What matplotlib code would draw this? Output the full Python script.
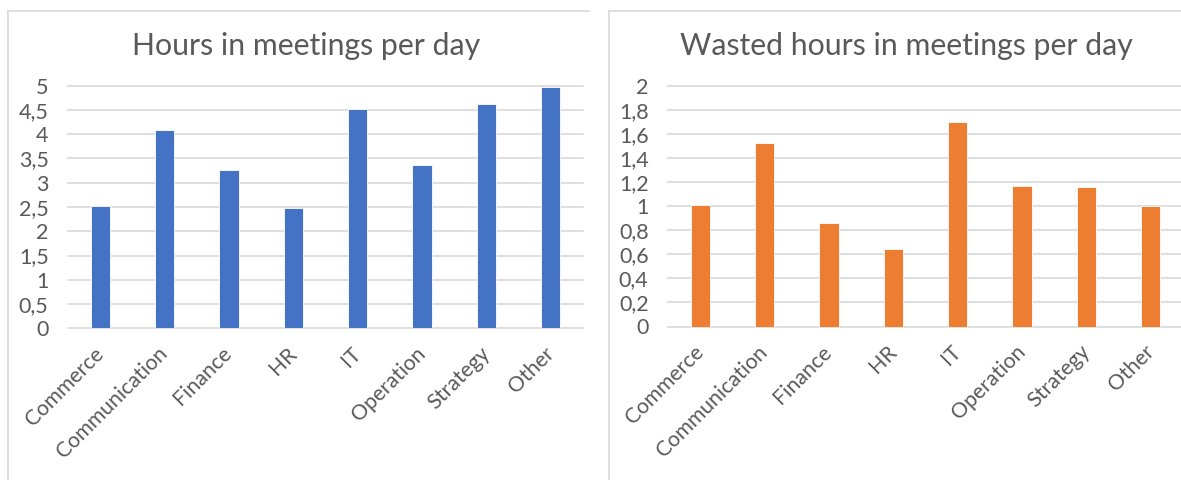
import matplotlib
matplotlib.use("Agg")
import matplotlib.pyplot as plt
from matplotlib.lines import Line2D

# Data
departments = ["Commerce", "Communication", "Finance", "HR", "IT",
               "Operation", "Strategy", "Other"]
hours_in_meetings = [2.52, 4.08, 3.26, 2.48, 4.53, 3.37, 4.62, 4.97]
wasted_hours = [1.01, 1.52, 0.86, 0.64, 1.70, 1.17, 1.16, 1.00]

hours_ticks = [0, 0.5, 1, 1.5, 2, 2.5, 3, 3.5, 4, 4.5, 5]
hours_tick_labels = ["0", "0,5", "1", "1,5", "2", "2,5", "3", "3,5", "4", "4,5", "5"]
wasted_ticks = [0, 0.2, 0.4, 0.6, 0.8, 1.0, 1.2, 1.4, 1.6, 1.8, 2.0]
wasted_tick_labels = ["0", "0,2", "0,4", "0,6", "0,8", "1", "1,2", "1,4", "1,6", "1,8", "2"]

left_title = "Hours in meetings per day"
right_title = "Wasted hours in meetings per day"

# Styling
W, H = 1181, 480
DPI = 100
TEXT = "#595959"
GRID = "#D9D9D9"
BORDER = "#D9D9D9"
BLUE = "#4472C4"
ORANGE = "#ED7D31"
FONT = ["Lato", "DejaVu Sans"]

plt.rcParams["font.family"] = FONT

fig = plt.figure(figsize=(W / DPI, H / DPI), dpi=DPI)
fig.patch.set_facecolor("white")


def px_axes(x0, x1, y_top, y_bot):
    return fig.add_axes([x0 / W, (H - y_bot) / H, (x1 - x0) / W, (y_bot - y_top) / H])


def panel_border(x_left, x_right, y_top):
    fig.add_artist(Line2D([x_left / W, x_right / W], [(H - y_top) / H] * 2,
                          transform=fig.transFigure, color=BORDER, lw=1.2))
    fig.add_artist(Line2D([x_left / W] * 2, [(H - y_top) / H, 0],
                          transform=fig.transFigure, color=BORDER, lw=1.2))


def bar_chart(ax, values, color, ticks, tick_labels, ymax):
    x = list(range(len(departments)))
    ax.bar(x, values, width=0.3, color=color, edgecolor="white", linewidth=0.6, zorder=3)
    ax.set_xlim(-0.5, len(departments) - 0.5)
    ax.set_ylim(0, ymax)
    ax.set_yticks(ticks)
    ax.set_yticklabels(tick_labels)
    ax.set_xticks(x)
    ax.set_xticklabels(departments, rotation=45, ha="right", va="center",
                       rotation_mode="anchor")
    ax.tick_params(axis="x", length=0, pad=16, labelsize=15.3, labelcolor=TEXT)
    ax.tick_params(axis="y", length=0, pad=14, labelsize=15.5, labelcolor=TEXT)
    for s in ax.spines.values():
        s.set_visible(False)
    ax.set_facecolor("none")
    for t in ticks:
        ax.axhline(t, color=GRID, linewidth=1.2, zorder=1, clip_on=False)


# Panel outlines
panel_border(8, 589, 11)
panel_border(609, W + 2, 11)

# Left chart
ax1 = px_axes(68, 583, 85.7, 328.3)
bar_chart(ax1, hours_in_meetings, BLUE, hours_ticks, hours_tick_labels, 5)
fig.text(306 / W, (H - 55) / H, left_title, ha="center", va="baseline",
         fontsize=21.8, color=TEXT)

# Right chart
ax2 = px_axes(668, 1183, 85.7, 326.5)
bar_chart(ax2, wasted_hours, ORANGE, wasted_ticks, wasted_tick_labels, 2)
fig.text(906 / W, (H - 55) / H, right_title, ha="center", va="baseline",
         fontsize=21.8, color=TEXT)

fig.savefig("out.png", dpi=DPI, facecolor="white")
